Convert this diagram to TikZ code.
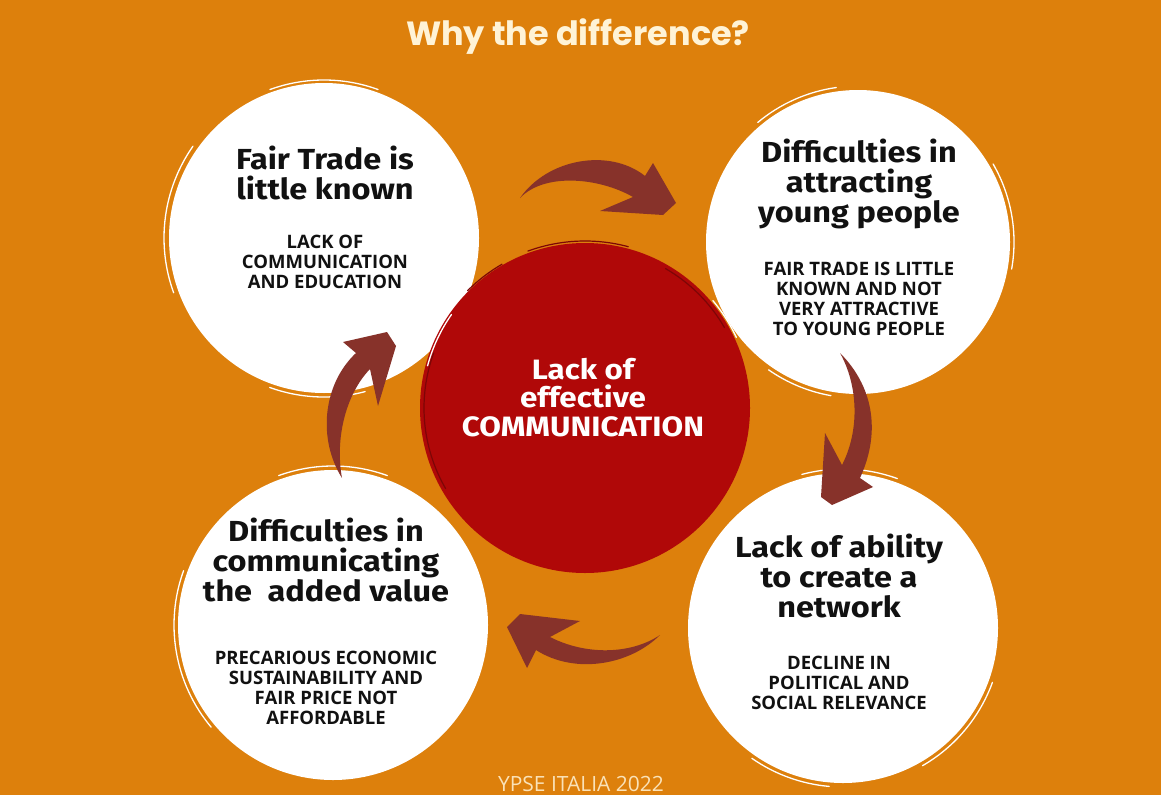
\documentclass[tikz,border=0pt]{standalone}
\usepackage{fontspec}
\setmainfont{Fira Sans}
\newfontfamily\headfont{Fira Sans}[FakeStretch=1.12]
\newfontfamily\capfont{Open Sans}
\newfontfamily\titlefont{Poppins}
\definecolor{bgor}{RGB}{221,128,12}
\definecolor{redc}{RGB}{176,8,8}
\definecolor{darkred}{RGB}{125,6,6}
\definecolor{arrowc}{RGB}{135,50,42}
\definecolor{cream}{RGB}{255,243,214}
\definecolor{ink}{RGB}{17,17,17}
\tikzset{
  whitecirc/.style={circle, fill=white, inner sep=0pt, minimum size=310pt},
  headtext/.style={font=\headfont\bfseries\fontsize{29}{30}\selectfont, align=center, inner sep=0pt, anchor=north, text=ink},
  captext/.style={font=\capfont\bfseries\fontsize{18.5}{20}\selectfont, align=center, inner sep=0pt, anchor=north, text=ink},
  brush/.style={white, line width=1.3pt, line cap=round},
  redbrush/.style={darkred, line width=1.2pt, line cap=round},
  arrowshape/.style={fill=arrowc},
}
\begin{document}
\begin{tikzpicture}[x=1pt,y=-1pt]
\useasboundingbox (0,0) rectangle (1161,795);
\fill[bgor] (0,0) rectangle (1161,795);

% white circles
\node[whitecirc] (tl) at (324,238) {};
\node[whitecirc, minimum size=304pt] (tr) at (858,242) {};
\node[whitecirc] (bl) at (333,625) {};
\node[whitecirc] (br) at (843,628) {};

% brush streaks
\draw[brush] (tl.center) ++(160:160) arc[start angle=160, end angle=215, radius=160];
\draw[brush] (tl.center) ++(75:159) arc[start angle=75, end angle=110, radius=159];
\draw[brush] (tl.center) ++(250:158) arc[start angle=250, end angle=290, radius=158];
\draw[brush] (tr.center) ++(330:156) arc[start angle=330, end angle=370, radius=156];
\draw[brush] (tr.center) ++(230:156) arc[start angle=230, end angle=262, radius=156];
\draw[brush] (tr.center) ++(100:156) arc[start angle=100, end angle=125, radius=156];
\draw[brush] (bl.center) ++(140:159) arc[start angle=140, end angle=200, radius=159];
\draw[brush] (bl.center) ++(250:159) arc[start angle=250, end angle=290, radius=159];
\draw[brush] (br.center) ++(20:159) arc[start angle=20, end angle=60, radius=159];
\draw[brush] (br.center) ++(95:159) arc[start angle=95, end angle=125, radius=159];
\draw[brush] (br.center) ++(255:159) arc[start angle=255, end angle=290, radius=159];

% centre circle
\node[circle, fill=redc, inner sep=0pt, minimum size=330pt] (c) at (585,408) {};
\draw[redbrush] (c.center) ++(250:167) arc[start angle=250, end angle=285, radius=167];
\draw[redbrush] (c.center) ++(225:166) arc[start angle=225, end angle=240, radius=166];
\draw[redbrush] (c.center) ++(150:161) arc[start angle=150, end angle=200, radius=161];
\draw[redbrush] (c.center) ++(300:161) arc[start angle=300, end angle=330, radius=161];
\draw[brush] (c.center) ++(195:163) arc[start angle=195, end angle=215, radius=163];
\draw[brush] (c.center) ++(320:167) arc[start angle=320, end angle=335, radius=167];

% arrows
\fill[arrowshape] (520,198) .. controls (548,158) and (610,148) .. (645,176)
  -- (653,163) -- (676,203) -- (663,215) -- (600,211) -- (633,197)
  .. controls (600,178) and (545,172) .. (520,198) -- cycle;
\fill[arrowshape] (840,353) .. controls (872,385) and (882,430) .. (860,478)
  -- (873,487) -- (832,505) -- (821,497) -- (825,433) -- (842,465)
  .. controls (860,430) and (858,385) .. (840,353) -- cycle;
\fill[arrowshape] (660,635) .. controls (630,655) and (585,655) .. (550,637)
  -- (580,621) -- (520,614) -- (507,627) -- (527,668) -- (536,650)
  .. controls (575,675) and (630,665) .. (660,635) -- cycle;
\fill[arrowshape] (342,478) .. controls (318,440) and (322,385) .. (356,353)
  -- (343,342) -- (387,332) -- (396,346) -- (378,406) -- (370,369)
  .. controls (345,395) and (335,440) .. (342,478) -- cycle;

% title
\node[font=\titlefont\bfseries\fontsize{33.5}{36}\selectfont, text=cream, anchor=base, inner sep=0pt] (title) at (578,45) {Why the difference?};

% texts
\node[headtext] (tlh) at (325,146) {Fair Trade is\\little known};
\node[captext] (tlc) at (325,235) {LACK OF\\COMMUNICATION\\AND EDUCATION};

\node[headtext] (trh) at (859,139) {Difficulties in\\attracting\\young people};
\node[captext] (trc) at (859,262) {FAIR TRADE IS LITTLE\\KNOWN AND NOT\\VERY ATTRACTIVE\\TO YOUNG PEOPLE};

\node[headtext] (blh) at (326,518) {Difficulties in\\communicating\\the\ \ added value};
\node[captext] (blc) at (326,651) {PRECARIOUS ECONOMIC\\SUSTAINABILITY AND\\FAIR PRICE NOT\\AFFORDABLE};

\node[headtext] (brh) at (839,534) {Lack of ability\\to create a\\network};
\node[captext] (brc) at (839,656) {DECLINE IN\\POLITICAL AND\\SOCIAL RELEVANCE};

\node[font=\headfont\bfseries\fontsize{28}{28.5}\selectfont, text=white, align=center, inner sep=0pt, anchor=north] (ct) at (583,358) {Lack of\\effective\\COMMUNICATION};

\node[font=\capfont\fontsize{21}{24}\selectfont, text=cream!85!bgor, anchor=base, inner sep=0pt] (foot) at (581,791) {YPSE ITALIA 2022};
\end{tikzpicture}
\end{document}
